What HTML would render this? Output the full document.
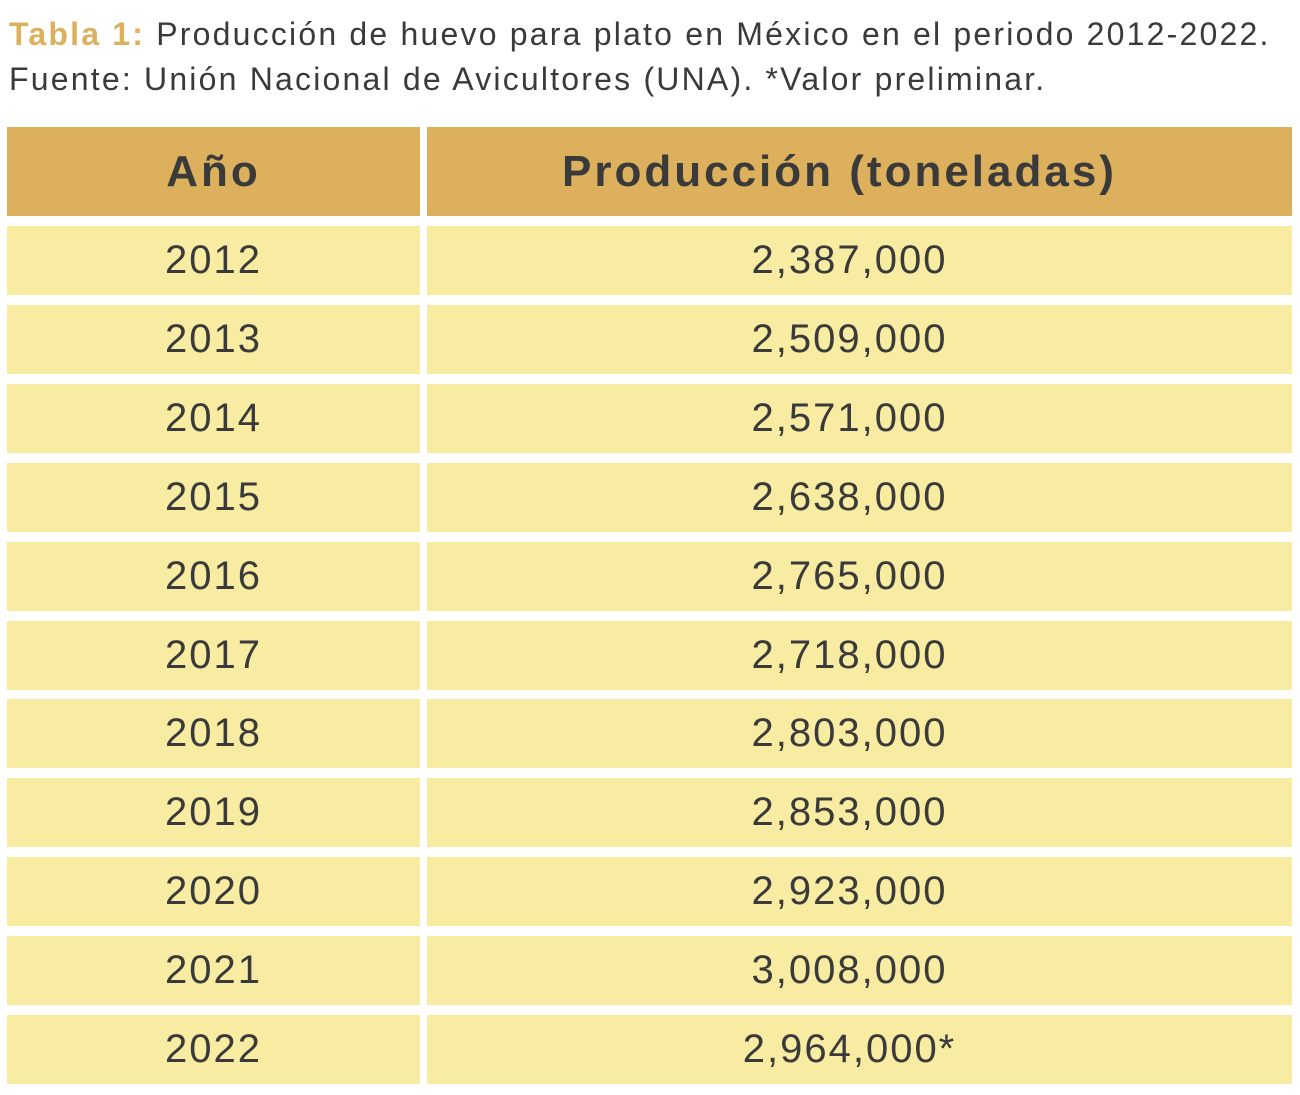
<!DOCTYPE html>
<html><head><meta charset="utf-8"><style>
body{margin:0;width:1300px;height:1095px;background:#fff;position:relative;overflow:hidden;font-family:"Liberation Sans","DejaVu Sans",sans-serif;color:#3a3a3a}
.t{position:absolute;left:9px;font-size:32px;white-space:nowrap;letter-spacing:2.2px}
.c{position:absolute;display:flex;align-items:center;justify-content:center;background:#f7eca2;font-size:40px;letter-spacing:2px}
.r{padding-right:20px;box-sizing:border-box}
.h{background:#dcb05c;font-weight:bold;font-size:44px;letter-spacing:3px}
</style></head><body>
<div class="t" style="top:16px"><b style="color:#dcb05c">Tabla 1:</b> Producción de huevo para plato en México en el periodo 2012-2022.</div>
<div class="t" style="top:61px">Fuente: Unión Nacional de Avicultores (UNA). *Valor preliminar.</div>
<div class="c h" style="left:7px;top:127px;width:413px;height:89px">Año</div>
<div class="c h r" style="left:427px;top:127px;width:865px;height:89px;padding-right:40px">Producción (toneladas)</div>
<script>
var y=["2012","2013","2014","2015","2016","2017","2018","2019","2020","2021","2022"],
v=["2,387,000","2,509,000","2,571,000","2,638,000","2,765,000","2,718,000","2,803,000","2,853,000","2,923,000","3,008,000","2,964,000*"];
for(var i=0;i<11;i++){var t=226+i*78.9;
document.write('<div class="c" style="left:7px;top:'+t+'px;width:413px;height:69px">'+y[i]+'</div><div class="c r" style="left:427px;top:'+t+'px;width:865px;height:69px">'+v[i]+'</div>');}
</script>
</body></html>
